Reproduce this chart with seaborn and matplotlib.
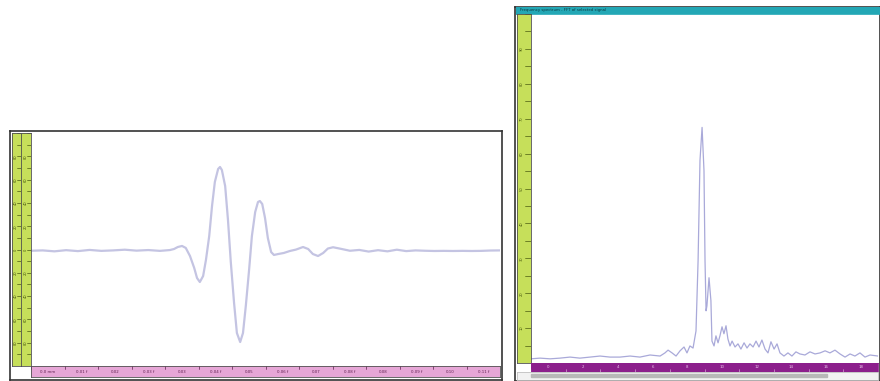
import numpy as np
import pandas as pd
import matplotlib
matplotlib.use("Agg")
import matplotlib.pyplot as plt
from matplotlib.patches import Rectangle
import seaborn as sns

sns.set_theme(style="white")
plt.rcParams['font.family'] = ['DejaVu Sans']

# ---------------- data ----------------
# Left panel: time-domain A-scan (time in µs, amplitude in %)
wave_time = [0.0, 0.25, 0.5, 0.75, 1.0, 1.25, 1.5, 1.75, 2.0, 2.25, 2.5, 2.75,
             2.96, 3.05, 3.13, 3.22, 3.30, 3.39, 3.48, 3.54, 3.60, 3.67, 3.73,
             3.80, 3.86, 3.92, 3.99, 4.03, 4.07, 4.14, 4.20, 4.26, 4.33, 4.39,
             4.46, 4.52, 4.58, 4.65, 4.71, 4.78, 4.84, 4.88, 4.93, 4.99, 5.05,
             5.12, 5.18, 5.27, 5.39, 5.52, 5.65, 5.80, 5.91, 6.01, 6.12, 6.23,
             6.33, 6.44, 6.59, 6.8, 7.0, 7.2, 7.4, 7.6, 7.8, 8.0, 8.2, 8.4,
             8.6, 8.8, 9.0, 9.2, 9.4, 9.6, 9.8, 10.0]
wave_amp = [-1.5, -1.2, -2.0, -1.0, -1.8, -0.8, -1.6, -1.2, -0.6, -1.4, -0.9, -1.6,
            -0.9, 0.0, 1.7, 2.6, 0.9, -6.0, -16.2, -24.8, -28.2, -23.1, -9.4,
            11.1, 36.8, 57.3, 68.4, 70.1, 67.5, 53.8, 24.8, -11.1, -46.2, -71.8,
            -79.5, -71.8, -48.7, -17.9, 11.1, 31.6, 40.2, 41.0, 38.5, 26.5, 9.4,
            -2.6, -5.1, -4.3, -3.4, -1.7, -0.5, 1.7, 0.0, -4.3, -6.0, -3.4,
            0.4, 1.5, 0.3, -1.5, -0.8, -2.2, -1.0, -2.0, -0.6, -1.8, -1.2, -1.5,
            -1.7, -1.6, -1.7, -1.6, -1.7, -1.6, -1.3, -1.2]

# Right panel: frequency spectrum (frequency in MHz, amplitude in %)
spec_freq = [0.0, 0.52, 1.10, 1.67, 2.25, 2.82, 3.40, 3.98, 4.55, 5.13, 5.71,
             6.28, 6.86, 7.44, 7.72, 7.90, 8.13, 8.36, 8.59, 8.82, 8.99, 9.16,
             9.34, 9.51, 9.63, 9.74, 9.86, 9.97, 10.03, 10.09, 10.14, 10.26,
             10.37, 10.43, 10.55, 10.66, 10.78, 10.89, 11.01, 11.12, 11.24,
             11.35, 11.47, 11.59, 11.76, 11.93, 12.10, 12.28, 12.45, 12.62,
             12.80, 12.97, 13.14, 13.31, 13.49, 13.66, 13.83, 14.01, 14.18,
             14.35, 14.58, 14.81, 15.04, 15.27, 15.50, 15.79, 16.08, 16.37,
             16.66, 16.95, 17.23, 17.52, 17.81, 18.10, 18.39, 18.67, 18.96,
             19.25, 19.54, 20.0]
spec_amp = [1.2, 1.4, 1.2, 1.4, 1.7, 1.4, 1.7, 2.0, 1.7, 1.7, 2.0,
            1.7, 2.3, 2.0, 2.9, 3.7, 2.9, 2.0, 3.5, 4.6, 2.9, 4.9,
            4.3, 9.2, 29.4, 58.2, 67.7, 55.3, 29.4, 15.0, 16.4, 24.5,
            17.9, 6.3, 4.9, 7.8, 5.8, 7.8, 10.4, 8.4, 10.7,
            6.9, 4.9, 6.3, 4.6, 5.5, 4.0, 5.8, 4.3, 5.5,
            4.6, 6.3, 4.6, 6.6, 4.0, 2.9, 6.1, 4.0, 5.5,
            2.9, 2.0, 2.9, 2.0, 3.2, 2.6, 2.3, 3.2, 2.6,
            2.9, 3.5, 2.9, 3.7, 2.6, 1.7, 2.6, 2.0, 2.9,
            1.7, 2.3, 2.0]

left_xticks = ["0.0 mm", "0.01 f", "0.02", "0.03 f", "0.03", "0.04 f", "0.05",
               "0.06 f", "0.07", "0.08 f", "0.08", "0.09 f", "0.10", "0.11 f"]
right_xticks = ["0", "2", "4", "6", "8", "10", "12", "14", "16", "18"]
title_text = "Frequency spectrum - FFT of selected signal"

# ---------------- layout helpers ----------------
W, H = 880, 381
fig = plt.figure(figsize=(W / 100, H / 100), dpi=100)
fig.patch.set_facecolor("white")


def px_axes(x0, y0, x1, y1, z=1):
    ax = fig.add_axes([x0 / W, 1 - y1 / H, (x1 - x0) / W, (y1 - y0) / H], zorder=z)
    return ax


def strip(x0, y0, x1, y1, color, edge="#505050", z=1):
    ax = px_axes(x0, y0, x1, y1, z)
    ax.set_facecolor(color)
    ax.set_xticks([]); ax.set_yticks([])
    for s in ax.spines.values():
        s.set_color(edge); s.set_linewidth(0.6)
    return ax


green = "#c6df5a"
pink = "#e6a6d6"
purple = "#8c1f8c"
teal = "#23a7b5"
line_left = "#c4c4e2"
line_right = "#a9a9d9"

# ================= LEFT PANEL =================
frame = px_axes(10, 131, 502, 380, z=0)
frame.set_xticks([]); frame.set_yticks([])
for s in frame.spines.values():
    s.set_color("#333333"); s.set_linewidth(1.2)

axL = px_axes(31, 132, 500, 366, z=2)
dfL = pd.DataFrame({"t": wave_time, "a": wave_amp})
sns.lineplot(data=dfL, x="t", y="a", ax=axL, color=line_left, lw=1.6,
             sort=False, estimator=None)
axL.set_xlim(0, 10); axL.set_ylim(-100, 100)
axL.set_xticks([]); axL.set_yticks([])
axL.set_xlabel(""); axL.set_ylabel("")
for s in axL.spines.values():
    s.set_visible(False)

# green y strips
for (gx0, gx1) in [(12, 21), (21, 31)]:
    g = strip(gx0, 133, gx1, 366, green, z=3)
    g.set_ylim(-100, 100); g.set_xlim(0, 1)
    for v in range(-100, 101, 10):
        g.plot([0.55, 1.0], [v, v], color="#4a5a10", lw=0.5)
    for v in range(-80, 81, 20):
        g.text(0.45, v, str(abs(v)), fontsize=2.6, color="#4a5a10",
               rotation=90, ha="center", va="center")

# pink x strip
p = strip(31, 366, 500, 377, pink, z=3)
p.set_xlim(0, len(left_xticks)); p.set_ylim(0, 1)
for i, lab in enumerate(left_xticks):
    p.plot([i, i], [0.75, 1.0], color="#602050", lw=0.5)
    p.text(i + 0.5, 0.45, lab, fontsize=2.8, color="#602050",
           ha="center", va="center")

# ================= RIGHT PANEL =================
frameR = px_axes(515, 7, 880, 381, z=0)
frameR.set_xticks([]); frameR.set_yticks([])
for s in frameR.spines.values():
    s.set_color("#333333"); s.set_linewidth(1.2)

tb = strip(516, 7, 880, 14, teal, edge=teal, z=3)
tb.text(0.01, 0.5, title_text, transform=tb.transAxes, fontsize=2.8,
        color="#0b3a40", va="center", ha="left")

axR = px_axes(531, 15, 878, 363, z=2)
dfR = pd.DataFrame({"f": spec_freq, "a": spec_amp})
sns.lineplot(data=dfR, x="f", y="a", ax=axR, color=line_right, lw=0.9,
             sort=False, estimator=None)
axR.set_xlim(0, 20); axR.set_ylim(0, 100)
axR.set_xticks([]); axR.set_yticks([])
axR.set_xlabel(""); axR.set_ylabel("")
for s in axR.spines.values():
    s.set_visible(False)

gR = strip(517, 14, 531, 363, green, z=3)
gR.set_ylim(0, 100); gR.set_xlim(0, 1)
for v in range(0, 101, 5):
    gR.plot([0.6, 1.0], [v, v], color="#4a5a10", lw=0.5)
for v in range(10, 100, 10):
    gR.text(0.35, v, str(v), fontsize=2.6, color="#4a5a10",
            rotation=90, ha="center", va="center")

pR = strip(531, 363, 878, 372, purple, edge=purple, z=3)
pR.set_xlim(0, 20); pR.set_ylim(0, 1)
for i, lab in enumerate(right_xticks):
    x = 2 * i + 1
    pR.text(x, 0.5, lab, fontsize=2.8, color="#e8c0e8", ha="center", va="center")
    pR.plot([2 * i, 2 * i], [0, 0.3], color="#e8c0e8", lw=0.4)

bR = strip(517, 372, 878, 380, "#f2f2f2", edge="#c0c0c0", z=3)
bR.set_xlim(0, 1); bR.set_ylim(0, 1)
bR.add_patch(Rectangle((0.04, 0.35), 0.82, 0.4, color="#b8b8b8"))

fig.savefig("out.png", dpi=100, facecolor="white")
